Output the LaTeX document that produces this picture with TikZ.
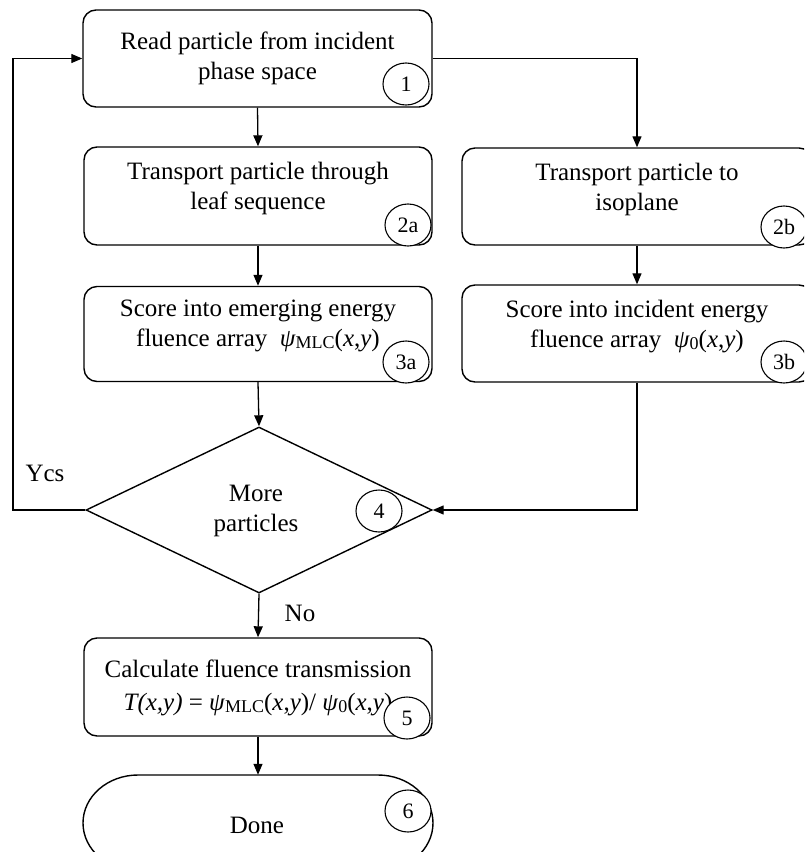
\documentclass[tikz,border=0pt]{standalone}
\usepackage{fontspec}
\setmainfont{Liberation Serif}
\usetikzlibrary{arrows.meta,shapes.geometric,shapes.misc}
\newcommand\mlcsub{\raisebox{-1.5pt}{\fontsize{18}{18}\selectfont MLC}}
\newcommand\zerosub{\raisebox{-1.5pt}{\fontsize{18}{18}\selectfont 0}}
\newcommand\xyarg{(\textit{x},\textit{y})}
\begin{document}
\begin{tikzpicture}[x=1pt,y=-1pt,
  box/.style={draw,line width=1.4pt,rounded corners=13pt,inner sep=0pt,minimum height=97pt},
  txt/.style={align=center,inner sep=0pt,font=\fontsize{25}{30}\selectfont},
  num/.style={draw,ellipse,fill=white,line width=1.1pt,minimum width=46pt,minimum height=42pt,inner sep=0pt,font=\fontsize{22}{22}\selectfont},
  lbl/.style={inner sep=0pt,font=\fontsize{25}{30}\selectfont},
  arr/.style={-{Triangle[length=11pt,width=9pt]},line width=1.3pt}]
\useasboundingbox (0,0) rectangle (804,852);
\clip (0,0) rectangle (804,852);

% boxes
\node[box,minimum width=349pt] (b1) at (257.5,58.5) {};
\node[txt] (t1) at (257.5,58) {Read particle from incident\\phase space};
\node[num] (c1) at (406,84) {1};

\node[box,minimum width=348pt,minimum height=98pt] (b2a) at (258,196) {};
\node[txt] (t2a) at (258,188) {Transport particle through\\leaf sequence};
\node[num] (c2a) at (408,225) {2a};

\node[box,minimum width=350pt] (b2b) at (637,196.5) {};
\node[txt] (t2b) at (637,189) {Transport particle to\\isoplane};
\node[num] (c2b) at (784,227) {2b};

\node[box,minimum width=348pt,minimum height=95pt] (b3a) at (258,334) {};
\node[txt] (t3a) at (258,326) {Score into emerging energy\\fluence array\ \ \textit{ψ}\mlcsub\xyarg};
\node[num] (c3a) at (406,362) {3a};

\node[box,minimum width=350pt] (b3b) at (637,333.5) {};
\node[txt] (t3b) at (637,327) {Score into incident energy\\fluence array\ \ \textit{ψ}\zerosub\xyarg};
\node[num] (c3b) at (784,362) {3b};

% decision
\node[draw,diamond,line width=1.4pt,inner sep=0pt,aspect=2.08,minimum width=346pt,minimum height=166pt] (dia) at (259,510) {};
\node[txt] (t4) at (256,511) {More\\particles};
\node[num] (c4) at (379,511) {4};

\node[box,minimum width=348pt,minimum height=98pt] (b5) at (258,687) {};
\node[txt] (t5) at (258,688) {Calculate fluence transmission\\[3pt]\textit{T(x,y)} = \textit{ψ}\mlcsub\xyarg/ \textit{ψ}\zerosub\xyarg};
\node[num] (c5) at (407,718) {5};

% terminator (ends are elliptic)
\node[inner sep=0pt,minimum width=350pt,minimum height=96pt] (done) at (258,823) {};
\draw[line width=1.4pt] (138,775) -- (378,775)
  arc[start angle=-90,end angle=90,x radius=55,y radius=48] -- (138,871)
  arc[start angle=90,end angle=270,x radius=55,y radius=48];
\node[txt] (t6) at (257,825) {Done};
\node[num] (c6) at (408,811) {6};

\node[lbl] (yes) at (45,473) {Ycs};
\node[lbl] (no) at (300,613) {No};
\coordinate (lp) at (13,510);

% connectors
\draw[arr] (b1.south) -- (b2a.north);
\draw[arr] (b1.east) -| (b2b.north);
\draw[arr] (b2a.south) -- (b3a.north);
\draw[arr] (b2b.south) -- (b3b.north);
\draw[arr] (b3a.south) -- (dia.north);
\draw[arr] (b3b.south) |- (dia.east);
\draw[arr] (dia.west) -- (lp) |- (b1.west);
\draw[arr] (dia.south) -- (b5.north);
\draw[arr] (b5.south) -- (done.north);
\end{tikzpicture}
\end{document}
